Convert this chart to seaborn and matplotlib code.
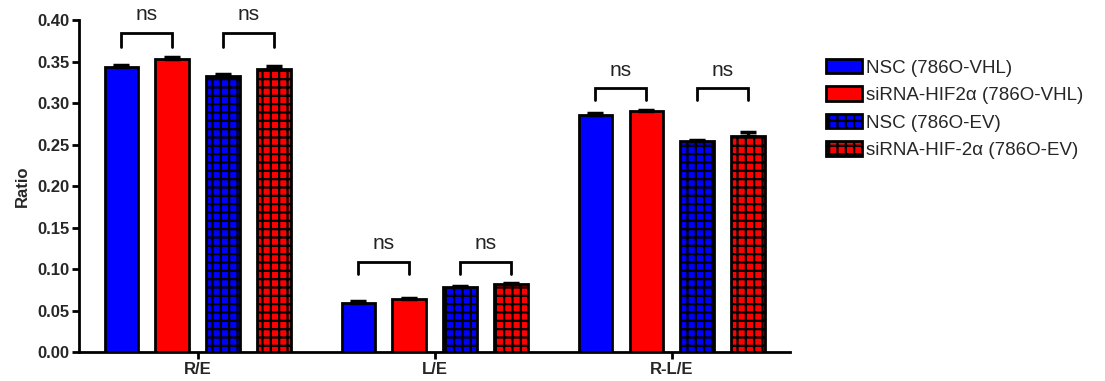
import matplotlib
matplotlib.use("Agg")
import matplotlib.pyplot as plt
from matplotlib.patches import Patch
import seaborn as sns
import pandas as pd
import numpy as np

# Ratios per region and group (mean and SEM)
categories = ["R/E", "L/E", "R-L/E"]
groups = ["NSC (786O-VHL)", "siRNA-HIF2\u03b1 (786O-VHL)",
          "NSC (786O-EV)", "siRNA-HIF-2\u03b1 (786O-EV)"]
means_nsc_vhl = [0.343, 0.059, 0.285]
means_si_vhl = [0.353, 0.064, 0.290]
means_nsc_ev = [0.332, 0.078, 0.2545]
means_si_ev = [0.341, 0.0815, 0.2605]
sem_nsc_vhl = [0.003, 0.002, 0.003]
sem_si_vhl = [0.002, 0.001, 0.002]
sem_nsc_ev = [0.003, 0.002, 0.001]
sem_si_ev = [0.003, 0.002, 0.005]
# Significance brackets per category: (bracket top, leg bottom, label y)
bracket_top = [0.384, 0.109, 0.318]
bracket_leg = [0.367, 0.094, 0.304]
label_y = [0.395, 0.119, 0.328]
sig_label = "ns"
y_ticks = [0.00, 0.05, 0.10, 0.15, 0.20, 0.25, 0.30, 0.35, 0.40]

colors = ["#0000FF", "#FF0000", "#0000FF", "#FF0000"]
hatches = [None, None, "++", "++"]

all_means = [means_nsc_vhl, means_si_vhl, means_nsc_ev, means_si_ev]
all_sems = [sem_nsc_vhl, sem_si_vhl, sem_nsc_ev, sem_si_ev]
df = pd.DataFrame({
    "Region": [c for _ in groups for c in categories],
    "Group": [g for g in groups for _ in categories],
    "Ratio": [v for m in all_means for v in m],
    "SEM": [v for s in all_sems for v in s],
})

sns.set_theme(style="ticks")
plt.rcParams["font.family"] = ["Liberation Sans", "DejaVu Sans"]
plt.rcParams["hatch.linewidth"] = 1.6
plt.rcParams["hatch.color"] = "black"

fig = plt.figure(figsize=(11.05, 3.81), dpi=100)
ax = fig.add_axes([0.0715, 0.076, 0.6435, 0.8715])

sns.barplot(data=df, x="Region", y="Ratio", hue="Group", order=categories,
            hue_order=groups, palette=colors, saturation=1, width=0.86,
            gap=0.35, errorbar=None, edgecolor="black", linewidth=2.0,
            legend=False, ax=ax)

# Hatch the EV groups and add upward SEM bars
bar_containers = list(ax.containers)
centers = {}
for gi, cont in enumerate(bar_containers):
    for ci, bar in enumerate(cont):
        if hatches[gi]:
            bar.set_hatch(hatches[gi])
        cx = bar.get_x() + bar.get_width() / 2
        centers[(gi, ci)] = cx
        ax.errorbar(cx, all_means[gi][ci], yerr=[[0], [all_sems[gi][ci]]],
                    fmt="none", ecolor="black", elinewidth=2.5,
                    capsize=6, capthick=2.5, zorder=3)

# Significance brackets between paired groups
for ci in range(len(categories)):
    for a, b in [(0, 1), (2, 3)]:
        x0, x1 = centers[(a, ci)], centers[(b, ci)]
        ax.plot([x0, x0, x1, x1],
                [bracket_leg[ci], bracket_top[ci], bracket_top[ci], bracket_leg[ci]],
                color="black", lw=2.0, clip_on=False, solid_joinstyle="miter")
        ax.text((x0 + x1) / 2, label_y[ci], sig_label, ha="center", va="bottom",
                fontsize=15, color="#222222", clip_on=False)

ax.set_xlim(-0.5, 2.5)
ax.set_ylim(0, 0.40)
ax.set_yticks(y_ticks)
ax.set_yticklabels([f"{t:.2f}" for t in y_ticks])
ax.set_xlabel("")
ax.set_ylabel("Ratio", fontsize=12, fontweight="bold", labelpad=5)
for lab in ax.get_xticklabels() + ax.get_yticklabels():
    lab.set_fontweight("bold")
    lab.set_fontsize(12)
ax.tick_params(axis="both", width=2, length=5, color="black", pad=2)
for side in ["top", "right"]:
    ax.spines[side].set_visible(False)
for side in ["left", "bottom"]:
    ax.spines[side].set_linewidth(2)
    ax.spines[side].set_color("black")

handles = [Patch(facecolor=colors[i], edgecolor="black", linewidth=2,
                 hatch=hatches[i], label=groups[i]) for i in range(len(groups))]
fig.legend(handles=handles, loc="upper left", bbox_to_anchor=(0.7475, 0.845),
           frameon=False, fontsize=13.5, handlelength=1.92, handleheight=0.8,
           handletextpad=0.2, labelspacing=0.52, borderpad=0, borderaxespad=0)

fig.savefig("out.png", dpi=100, facecolor="white")
